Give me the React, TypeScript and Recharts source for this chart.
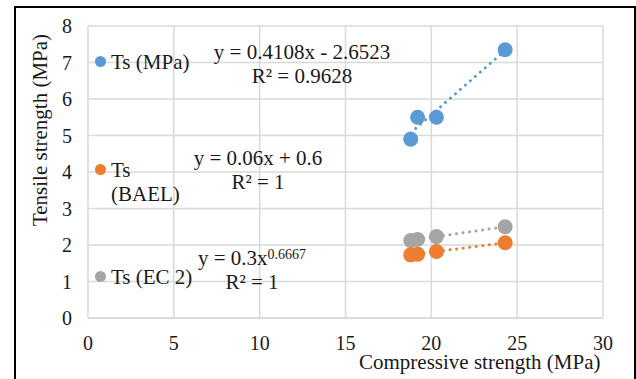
import React from "react";
import {
  ScatterChart,
  Scatter,
  XAxis,
  YAxis,
  CartesianGrid,
} from "recharts";

// compressive strength (MPa) of the four mixes
const compressive = [18.8, 19.2, 20.3, 24.3];
const tsMeasured = [4.9, 5.5, 5.5, 7.35];
const tsBael = [1.73, 1.75, 1.82, 2.06];
const tsEc2 = [2.12, 2.15, 2.23, 2.5];

// trendline values at the same x positions
const trendMeasured = [5.07, 5.24, 5.69, 7.33];
const trendBael = [1.73, 1.75, 1.82, 2.06];
const trendEc2 = [2.12, 2.15, 2.23, 2.5];

const xTicks = [0, 5, 10, 15, 20, 25, 30];
const yTicks = [0, 1, 2, 3, 4, 5, 6, 7, 8];

const BLUE = "#5b9bd5";
const ORANGE = "#ed7d31";
const GRAY = "#a5a5a5";
const TEXT = "#1a1a1a";
const FONT = "'Liberation Serif', 'Times New Roman', serif";

const toPoints = (ys: number[]) => compressive.map((x, i) => ({ x, y: ys[i] }));

const noDot = () => <g />;

const bigDot = (color: string) => (props: any) => (
  <circle cx={props.cx} cy={props.cy} r={7.5} fill={color} />
);

const dotted = (color: string) => ({
  stroke: color,
  strokeWidth: 3,
  strokeDasharray: "0.1 6.5",
  strokeLinecap: "round" as const,
});

const txt = (left: number, top: number, extra: any = {}) => ({
  position: "absolute" as const,
  left,
  top,
  fontFamily: FONT,
  fontSize: 21,
  color: TEXT,
  lineHeight: "24px",
  whiteSpace: "nowrap" as const,
  ...extra,
});

const LegendDot = ({ color, left, top }: { color: string; left: number; top: number }) => (
  <div style={{ position: "absolute", left, top, width: 11, height: 11, borderRadius: "50%", background: color }} />
);

export default function App() {
  return (
    <div style={{ position: "absolute", left: 0, top: 0, width: 636, height: 379, overflow: "hidden", background: "#fff" }}>
      <div style={{ position: "absolute", left: 14, top: 6, width: 618, height: 400, border: "2px solid #000" }} />
      <ScatterChart
        width={636}
        height={379}
        margin={{ top: 26, right: 33, left: 0, bottom: 0 }}
      >
        <CartesianGrid stroke="#d9d9d9" strokeWidth={1.5} />
        <XAxis
          type="number"
          dataKey="x"
          domain={[0, 30]}
          ticks={xTicks}
          height={61}
          tickSize={0}
          tickMargin={18}
          tickLine={false}
          axisLine={{ stroke: "#d9d9d9", strokeWidth: 1.5 }}
          tick={{ fill: TEXT, fontSize: 20, fontFamily: FONT }}
        />
        <YAxis
          type="number"
          dataKey="y"
          domain={[0, 8]}
          ticks={yTicks}
          width={88}
          tickSize={0}
          tickMargin={16}
          tickLine={false}
          axisLine={false}
          tick={{ fill: TEXT, fontSize: 20, fontFamily: FONT }}
        />
        <Scatter data={toPoints(trendMeasured)} shape={noDot} line={dotted(BLUE)} isAnimationActive={false} />
        <Scatter data={toPoints(trendBael)} shape={noDot} line={dotted(ORANGE)} isAnimationActive={false} />
        <Scatter data={toPoints(trendEc2)} shape={noDot} line={dotted(GRAY)} isAnimationActive={false} />
        <Scatter name="Ts (EC 2)" data={toPoints(tsEc2)} shape={bigDot(GRAY)} isAnimationActive={false} />
        <Scatter name="Ts (BAEL)" data={toPoints(tsBael)} shape={bigDot(ORANGE)} isAnimationActive={false} />
        <Scatter name="Ts (MPa)" data={toPoints(tsMeasured)} shape={bigDot(BLUE)} isAnimationActive={false} />
      </ScatterChart>

      {/* axis titles */}
      <div style={txt(40, 130, { transform: "translate(-50%, -50%) rotate(-90deg)" })}>Tensile strength (MPa)</div>
      <div style={txt(359, 350)}>Compressive strength (MPa)</div>

      {/* legend */}
      <LegendDot color={BLUE} left={95} top={56} />
      <div style={txt(111, 50)}>Ts (MPa)</div>
      <LegendDot color={ORANGE} left={95} top={164} />
      <div style={txt(111, 158)}>Ts<br />(BAEL)</div>
      <LegendDot color={GRAY} left={95} top={271} />
      <div style={txt(111, 265)}>Ts (EC 2)</div>

      {/* trendline equations */}
      <div style={txt(302, 40, { transform: "translateX(-50%)", textAlign: "center" })}>
        y = 0.4108x - 2.6523<br />R² = 0.9628
      </div>
      <div style={txt(258, 146, { transform: "translateX(-50%)", textAlign: "center" })}>
        y = 0.06x + 0.6<br />R² = 1
      </div>
      <div style={txt(252, 246, { transform: "translateX(-50%)", textAlign: "center" })}>
        y = 0.3x<sup style={{ fontSize: 14, verticalAlign: "6px", lineHeight: 0 }}>0.6667</sup><br />R² = 1
      </div>
    </div>
  );
}
